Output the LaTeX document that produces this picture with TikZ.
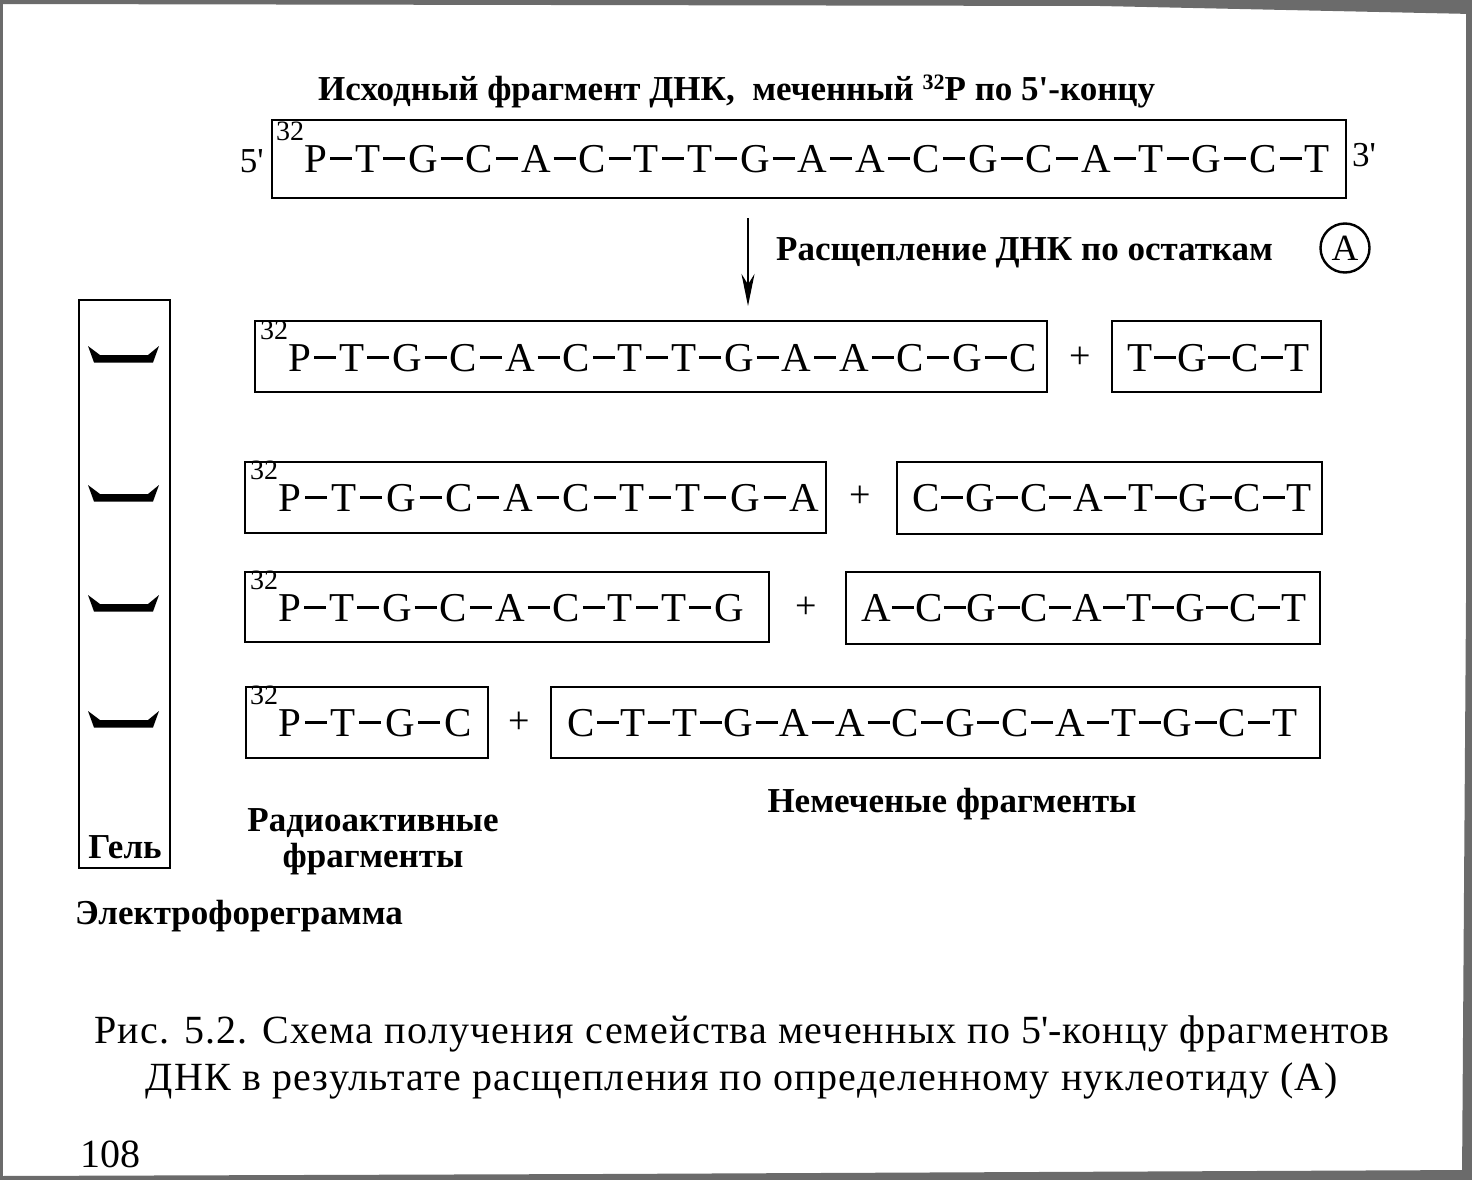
\documentclass[tikz,border=0pt]{standalone}
\usepackage{fontspec}
\setmainfont{Liberation Serif}
\newfontfamily\capfont[LetterSpace=3]{Liberation Serif}
\usetikzlibrary{arrows.meta}
\newlength\dnaw
\setlength\dnaw{28pt}
\newcommand\dnad{\makebox[\dnaw]{\rule[12pt]{22pt}{3pt}}}
\newcommand\isot{\raisebox{32pt}{\fontsize{28}{28}\selectfont 32}}
\newcommand\isott{\raisebox{11pt}{\fontsize{22}{22}\selectfont 32}}
\newcommand\apos{\textquotesingle}
\tikzset{
  seq/.style={anchor=base west, inner sep=0pt, font=\fontsize{41}{41}\selectfont},
  lbl/.style={inner sep=0pt, font=\fontsize{35}{36}\selectfont\bfseries},
  box/.style={draw, line width=2.6pt, inner sep=0pt},
  plus/.style={inner sep=0pt, anchor=base, font=\fontsize{38}{38}\selectfont},
  band/.style={fill=black, draw=none},
  scan/.style={fill=black!58, draw=none},
}
\begin{document}
\begin{tikzpicture}[x=1pt,y=-1pt]
\useasboundingbox (0,0) rectangle (1472,1180);
% scan edges
\fill[scan] (0,0) -- (1472,0) -- (1472,14) -- (1100,6) -- (0,4) -- cycle;
\fill[scan] (1472,0) -- (1472,1180) -- (1462,1180) -- (1466,600) -- (1466,10) -- cycle;
\fill[scan] (0,1180) -- (1472,1180) -- (1472,1170) -- (600,1174) -- (0,1176) -- cycle;
\fill[scan] (0,0) -- (3,0) -- (3,1180) -- (0,1180) -- cycle;

% title
\node[lbl, anchor=base west] (title) at (318,101) {Исходный фрагмент ДНК,\ \ меченный \isott P по 5\apos-концу};

% main fragment
\node[box, minimum width=1074pt, minimum height=78pt] (mbox) at (809,159) {};
\node[seq] (mseq) at (276,172) {\isot P\dnad T\dnad G\dnad C\dnad A\dnad C\dnad T\dnad T\dnad G\dnad A\dnad A\dnad C\dnad G\dnad C\dnad A\dnad T\dnad G\dnad C\dnad T};
\node[inner sep=0pt, font=\fontsize{35}{35}\selectfont, anchor=base east] (p5) at (264,172) {5\apos};
\node[inner sep=0pt, font=\fontsize{35}{35}\selectfont, anchor=base west] (p3) at (1352,166) {3\apos};

% arrow and cleavage label
\coordinate (astart) at (748,218);
\coordinate (aend) at (748,306);
\draw[line width=2.4pt, -{Stealth[length=32pt,width=13pt]}] (astart) -- (aend);
\node[lbl, anchor=base west] (cleave) at (776,260) {Расщепление ДНК по остаткам};
\node[draw, circle, line width=2.4pt, minimum size=49pt, inner sep=0pt, font=\fontsize{37}{37}\selectfont] (circA) at (1345,248) {A};

% gel
\node[box, minimum width=91pt, minimum height=568pt] (gel) at (124.5,584) {};
\node[lbl, anchor=base] (gell) at (125,858) {Гель};
\foreach \yy in {355,494,604,720}{
  \fill[band] (88,\yy-9) -- (100,\yy) -- (148,\yy) -- (159,\yy-9) -- (153,\yy+7.5) -- (94,\yy+7.5) -- cycle;
}

% row 1
\node[box, minimum width=792pt, minimum height=71pt] (r1a) at (651,356.5) {};
\node[seq] (s1a) at (260,371) {\isot P\dnad T\dnad G\dnad C\dnad A\dnad C\dnad T\dnad T\dnad G\dnad A\dnad A\dnad C\dnad G\dnad C};
\node[plus] (p1) at (1080,368) {+};
\node[box, minimum width=209pt, minimum height=71pt] (r1b) at (1216.5,356.5) {};
\node[seq] (s1b) at (1127,371) {\setlength\dnaw{25pt}T\dnad G\dnad C\dnad T};

% row 2
\node[box, minimum width=581pt, minimum height=71pt] (r2a) at (535.5,497.5) {};
\node[seq] (s2a) at (250,511) {\setlength\dnaw{30pt}\isot P\dnad T\dnad G\dnad C\dnad A\dnad C\dnad T\dnad T\dnad G\dnad A};
\node[plus] (p2) at (860,507) {+};
\node[box, minimum width=425pt, minimum height=72pt] (r2b) at (1109.5,498) {};
\node[seq] (s2b) at (912,511) {\setlength\dnaw{25.5pt}C\dnad G\dnad C\dnad A\dnad T\dnad G\dnad C\dnad T};

% row 3
\node[box, minimum width=524pt, minimum height=70pt] (r3a) at (507,607) {};
\node[seq] (s3a) at (250,621) {\isot P\dnad T\dnad G\dnad C\dnad A\dnad C\dnad T\dnad T\dnad G};
\node[plus] (p3p) at (806,618) {+};
\node[box, minimum width=474pt, minimum height=72pt] (r3b) at (1083,608) {};
\node[seq] (s3b) at (861,621) {\setlength\dnaw{24.3pt}A\dnad C\dnad G\dnad C\dnad A\dnad T\dnad G\dnad C\dnad T};

% row 4
\node[box, minimum width=242pt, minimum height=71pt] (r4a) at (367,722.5) {};
\node[seq] (s4a) at (250,736) {\setlength\dnaw{29.5pt}\isot P\dnad T\dnad G\dnad C};
\node[plus] (p4) at (519,733) {+};
\node[box, minimum width=769pt, minimum height=71pt] (r4b) at (935.5,722.5) {};
\node[seq] (s4b) at (567,736) {\setlength\dnaw{26.4pt}C\dnad T\dnad T\dnad G\dnad A\dnad A\dnad C\dnad G\dnad C\dnad A\dnad T\dnad G\dnad C\dnad T};

% labels
\node[lbl, anchor=base] (unl) at (952,812) {Немеченые фрагменты};
\node[lbl, anchor=base, align=center] (rad) at (373,867) {Радиоактивные\\фрагменты};
\node[lbl, anchor=base west] (eph) at (75,924) {Электрофореграмма};

% caption
\node[inner sep=0pt, anchor=base, align=center, font=\capfont\fontsize{40}{47}\selectfont] (cap) at (742,1090) {Рис. 5.2. Схема получения семейства меченных по 5\apos-концу фрагментов\\ДНК в результате расщепления по определенному нуклеотиду (А)};
\node[inner sep=0pt, anchor=base west, font=\fontsize{40}{40}\selectfont] (pg) at (80,1167) {108};
\end{tikzpicture}
\end{document}
